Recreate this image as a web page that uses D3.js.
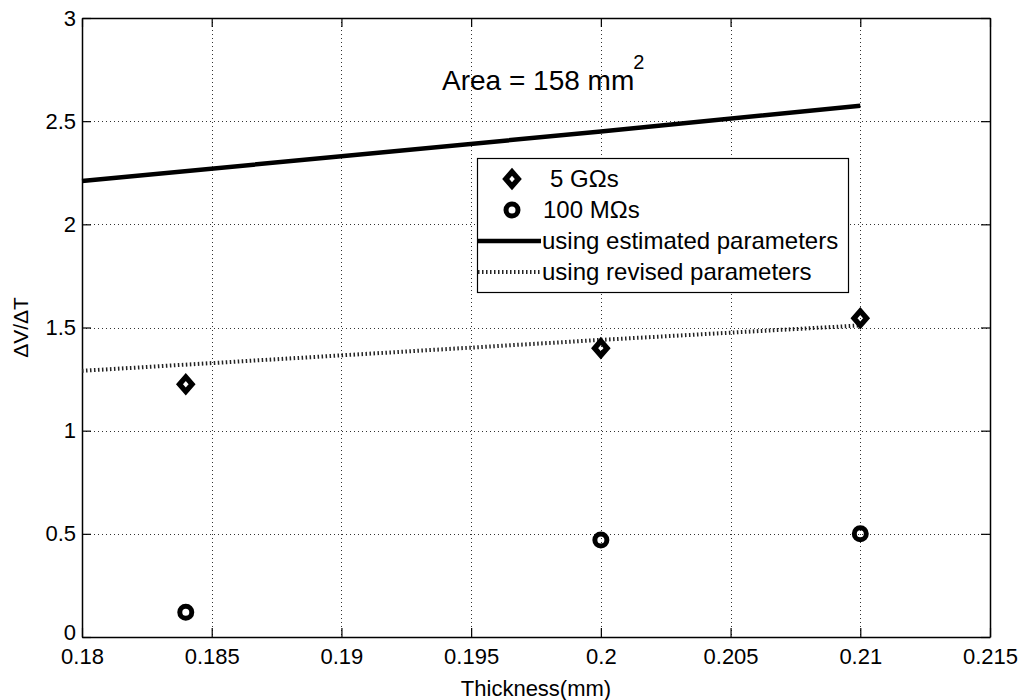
<!DOCTYPE html>
<html>
<head>
<meta charset="utf-8">
<script src="https://cdn.jsdelivr.net/npm/d3@7"></script>
<style>
  html, body { margin: 0; padding: 0; background: #fff; }
  svg { display: block; font-family: "Liberation Sans", Arial, sans-serif; }
</style>
</head>
<body>
<svg id="chart" width="1026" height="700"></svg>
<script>
// ---- data ----
const thickness = [0.184, 0.2, 0.21];
const gOhmValues = [1.225, 1.40, 1.545];      // 5 GΩs
const mOhmValues = [0.12, 0.47, 0.50];        // 100 MΩs
const lineX = [0.18, 0.19, 0.2, 0.21];
const estimatedValues = [2.21, 2.33, 2.45, 2.575];
const revisedValues = [1.29, 1.365, 1.44, 1.51];
const xTickValues = [0.18, 0.185, 0.19, 0.195, 0.2, 0.205, 0.21, 0.215];
const xTickLabels = ["0.18", "0.185", "0.19", "0.195", "0.2", "0.205", "0.21", "0.215"];
const yTickValues = [0, 0.5, 1, 1.5, 2, 2.5, 3];
const yTickLabels = ["0", "0.5", "1", "1.5", "2", "2.5", "3"];
const legendLabels = ["5 G\u03A9s", "100 M\u03A9s", "using estimated parameters", "using revised parameters"];

// ---- layout ----
const L = 82, R = 990, T = 18, B = 637;
const svg = d3.select("#chart");
const x = d3.scaleLinear().domain([0.18, 0.215]).range([L, R]);
const y = d3.scaleLinear().domain([0, 3]).range([B, T]);

// grid
const grid = svg.append("g").attr("stroke", "#333").attr("stroke-width", 1).attr("stroke-dasharray", "1,3");
grid.selectAll(".gx").data(xTickValues).join("line")
  .attr("x1", d => Math.round(x(d)) + 0.5).attr("x2", d => Math.round(x(d)) + 0.5)
  .attr("y1", T).attr("y2", B);
grid.selectAll(".gy").data(yTickValues).join("line")
  .attr("y1", d => Math.round(y(d)) + 0.5).attr("y2", d => Math.round(y(d)) + 0.5)
  .attr("x1", L).attr("x2", R);

// axes
const fmtX = d => xTickLabels[xTickValues.indexOf(d)];
const fmtY = d => yTickLabels[yTickValues.indexOf(d)];
const tick = 9;
const axB = svg.append("g").attr("transform", `translate(0,${B})`)
  .call(d3.axisBottom(x).tickValues(xTickValues).tickFormat(fmtX).tickSizeInner(-tick).tickSizeOuter(0).tickPadding(11));
const axT = svg.append("g").attr("transform", `translate(0,${T})`)
  .call(d3.axisTop(x).tickValues(xTickValues).tickFormat("").tickSizeInner(-tick).tickSizeOuter(0));
const axL = svg.append("g").attr("transform", `translate(${L},0)`)
  .call(d3.axisLeft(y).tickValues(yTickValues).tickFormat(fmtY).tickSizeInner(-tick).tickSizeOuter(0).tickPadding(6));
const axR = svg.append("g").attr("transform", `translate(${R},0)`)
  .call(d3.axisRight(y).tickValues(yTickValues).tickFormat("").tickSizeInner(-tick).tickSizeOuter(0));
[axB, axT, axL, axR].forEach(a => {
  a.selectAll(".domain").attr("stroke", "#000").attr("stroke-width", 1.5);
  a.selectAll(".tick line").attr("stroke", "#000").attr("stroke-width", 1.2);
  a.selectAll("text").attr("fill", "#000").attr("font-size", 22)
    .attr("font-family", "'Liberation Sans', Arial, sans-serif");
});
// lift the "0" label slightly, as in the reference
axL.selectAll(".tick text").filter(d => d === 0).attr("dy", "0.1em");

// lines
const lineGen = d3.line().x(d => x(d[0])).y(d => y(d[1]));
svg.append("path").datum(lineX.map((v, i) => [v, estimatedValues[i]]))
  .attr("d", lineGen).attr("fill", "none").attr("stroke", "#000").attr("stroke-width", 4.5);
svg.append("path").datum(lineX.map((v, i) => [v, revisedValues[i]]))
  .attr("d", lineGen).attr("fill", "none").attr("stroke", "#222").attr("stroke-width", 4).attr("stroke-dasharray", "1.5,2.5");

// markers
const diamond = d3.symbol().type(d3.symbolDiamond2).size(100);
svg.selectAll(".dia").data(thickness).join("path")
  .attr("transform", (d, i) => `translate(${x(d)},${y(gOhmValues[i])}) scale(1,1.15)`)
  .attr("d", diamond).attr("fill", "none").attr("stroke", "#000").attr("stroke-width", 5);
svg.selectAll(".circ").data(thickness).join("circle")
  .attr("cx", d => x(d)).attr("cy", (d, i) => y(mOhmValues[i])).attr("r", 6)
  .attr("fill", "none").attr("stroke", "#000").attr("stroke-width", 5);

// legend
const lg = svg.append("g");
lg.append("rect").attr("x", 477.5).attr("y", 158.5).attr("width", 371).attr("height", 134)
  .attr("fill", "#fff").attr("stroke", "#000").attr("stroke-width", 1.2);
const rowsY = [179, 210, 241, 272];
lg.append("path").attr("transform", `translate(512,${rowsY[0]}) scale(1,1.15)`).attr("d", diamond)
  .attr("fill", "none").attr("stroke", "#000").attr("stroke-width", 5);
lg.append("circle").attr("cx", 512).attr("cy", rowsY[1]).attr("r", 6)
  .attr("fill", "none").attr("stroke", "#000").attr("stroke-width", 5);
lg.append("line").attr("x1", 478).attr("x2", 541).attr("y1", rowsY[2]).attr("y2", rowsY[2])
  .attr("stroke", "#000").attr("stroke-width", 4.5);
lg.append("line").attr("x1", 478).attr("x2", 541).attr("y1", rowsY[3]).attr("y2", rowsY[3])
  .attr("stroke", "#222").attr("stroke-width", 4).attr("stroke-dasharray", "1.5,2.5");
const textX = [550, 543, 542, 542];
lg.selectAll(".lt").data(legendLabels).join("text")
  .attr("x", (d, i) => textX[i]).attr("y", (d, i) => rowsY[i]).attr("dy", "0.35em")
  .attr("font-size", 24).attr("fill", "#000").text(d => d);

// annotation
const ann = svg.append("text").attr("x", 442).attr("y", 90).attr("font-size", 28).attr("fill", "#000");
ann.append("tspan").text("Area = 158 mm");
ann.append("tspan").attr("font-size", 20).attr("dy", -21).attr("dx", -1).text("2");

// axis titles
svg.append("text").attr("x", (L + R) / 2).attr("y", 696).attr("text-anchor", "middle")
  .attr("font-size", 22).attr("fill", "#000").text("Thickness(mm)");
svg.append("text").attr("transform", `translate(28,${(T + B) / 2}) rotate(-90)`).attr("text-anchor", "middle")
  .attr("font-size", 21).attr("fill", "#000").text("\u0394V/\u0394T");
</script>
</body>
</html>
